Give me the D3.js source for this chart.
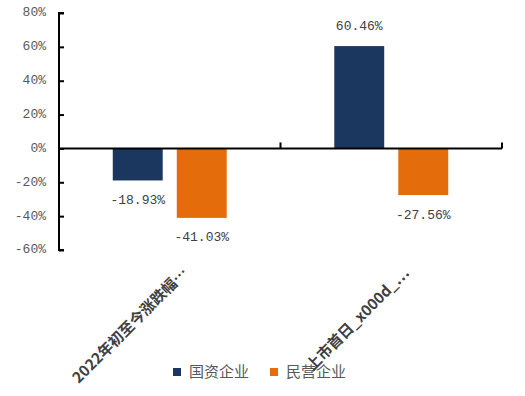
<!DOCTYPE html>
<html>
<head>
<meta charset="utf-8">
<script src="https://cdn.jsdelivr.net/npm/d3@7"></script>
<style>
  body { margin: 0; background: #fff; }
  svg { display: block; }
</style>
</head>
<body>
<div id="chart"></div>
<script>
const width = 525;
const height = 396;

// categorias e séries
const categories = ["2022年初至今涨跌幅…", "上市首日_x000d_…"];
const seriesNames = ["国资企业", "民营企业"];
const guozi = [-0.1893, 0.6046];
const minying = [-0.4103, -0.2756];
const yTicks = [-0.6, -0.4, -0.2, 0, 0.2, 0.4, 0.6, 0.8];
const colors = ["#1B3760", "#E46C0B"];

const values = [guozi, minying];

const margin = { left: 59, right: 23, top: 13, bottom: 146 };

const svg = d3.select("#chart").append("svg")
  .attr("width", width)
  .attr("height", height);

const x0 = d3.scaleBand()
  .domain(categories)
  .range([margin.left, width - margin.right]);

const x1 = d3.scaleBand()
  .domain(seriesNames)
  .range([0, x0.bandwidth()])
  .paddingInner(0.22)
  .paddingOuter(0.84);

const y = d3.scaleLinear()
  .domain([-0.6, 0.8])
  .range([height - margin.bottom, margin.top]);

// barras
categories.forEach((cat, i) => {
  seriesNames.forEach((s, j) => {
    const v = values[j][i];
    const bx = x0(cat) + x1(s);
    svg.append("rect")
      .attr("x", bx)
      .attr("y", y(Math.max(0, v)))
      .attr("width", x1.bandwidth())
      .attr("height", Math.abs(y(v) - y(0)))
      .attr("fill", colors[j]);

    svg.append("text")
      .attr("x", bx + x1.bandwidth() / 2)
      .attr("y", v >= 0 ? y(v) - 20 : y(v) + 20)
      .attr("text-anchor", "middle")
      .attr("dominant-baseline", "middle")
      .attr("font-family", "Liberation Mono, DejaVu Sans Mono, monospace")
      .attr("font-size", "13px")
      .attr("fill", "#404040")
      .text((v * 100).toFixed(2) + "%");
  });
});

// eixo Y
const yAxis = d3.axisRight(y)
  .tickValues(yTicks)
  .tickSize(5)
  .tickFormat("");

const gy = svg.append("g")
  .attr("transform", `translate(${margin.left},0)`)
  .call(yAxis);
gy.select(".domain").attr("stroke", "#000").attr("stroke-width", 2)
  .attr("d", `M5,${y(0.8)}H0V${y(-0.6)}H5`);
gy.selectAll(".tick line").attr("stroke", "#000").attr("stroke-width", 2);

svg.selectAll(".ylab")
  .data(yTicks)
  .enter().append("text")
  .attr("class", "ylab")
  .attr("x", margin.left - 13)
  .attr("y", d => y(d))
  .attr("text-anchor", "end")
  .attr("dominant-baseline", "middle")
  .attr("font-family", "Liberation Mono, DejaVu Sans Mono, monospace")
  .attr("font-size", "13px")
  .attr("fill", "#595959")
  .text(d => Math.round(d * 100) + "%");

// linha do zero com marcas entre categorias
svg.append("line")
  .attr("x1", x0.range()[0]).attr("x2", x0.range()[1])
  .attr("y1", y(0)).attr("y2", y(0))
  .attr("stroke", "#000").attr("stroke-width", 2);

const bounds = categories.map(c => x0(c) + x0.bandwidth());
svg.selectAll(".xtick")
  .data(bounds)
  .enter().append("line")
  .attr("class", "xtick")
  .attr("x1", d => d).attr("x2", d => d)
  .attr("y1", y(0)).attr("y2", y(0) - 6)
  .attr("stroke", "#000").attr("stroke-width", 2);

// legenda
const legendX = [173, 270];
seriesNames.forEach((s, j) => {
  svg.append("rect")
    .attr("x", legendX[j])
    .attr("y", 368)
    .attr("width", 8)
    .attr("height", 8)
    .attr("fill", colors[j]);
  svg.append("text")
    .attr("x", legendX[j] + 16)
    .attr("y", 373)
    .attr("dominant-baseline", "middle")
    .attr("font-family", "Noto Sans CJK SC, sans-serif")
    .attr("font-size", "15px")
    .attr("fill", "#595959")
    .text(s);
});

// rótulos das categorias (rotacionados)
svg.selectAll(".xlab")
  .data(categories)
  .enter().append("text")
  .attr("class", "xlab")
  .attr("transform", d => `translate(${x0(d) + x0.bandwidth() / 2 + 19},${height - margin.bottom + 24}) rotate(-45)`)
  .attr("text-anchor", "end")
  .attr("font-family", "Noto Sans CJK SC, sans-serif")
  .attr("font-weight", "bold")
  .attr("font-size", "15px")
  .attr("fill", "#404040")
  .text(d => d);
</script>
</body>
</html>
